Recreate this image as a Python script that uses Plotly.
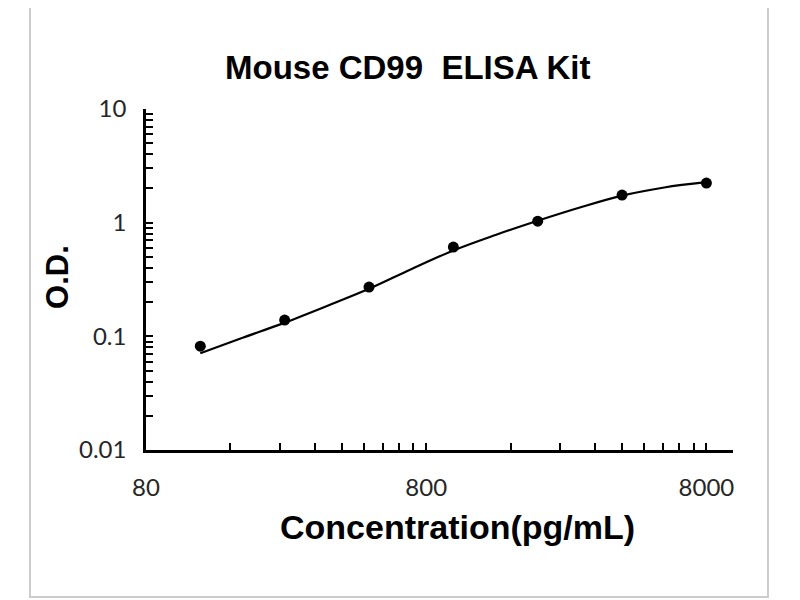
import plotly.graph_objects as go

# standard concentrations (pg/mL) and measured O.D.
conc = [125, 250, 500, 1000, 2000, 4000, 8000]
od = [0.082, 0.139, 0.271, 0.61, 1.03, 1.75, 2.23]

# fitted curve
fit_conc = [125, 177, 250, 354, 500, 707, 1000, 1414, 2000, 2828, 4000, 5657, 8000]
fit_od = [0.071, 0.097, 0.132, 0.185, 0.262, 0.39, 0.57, 0.78, 1.04, 1.36, 1.73, 2.04, 2.27]

x_tickvals = [80, 800, 8000]
x_ticktext = ['80', '800', '8000']
y_tickvals = [0.01, 0.1, 1, 10]
y_ticktext = ['0.01', '0.1', '1', '10']

x_minor = [80 * k * 10 ** d for d in range(3) for k in range(2, 10)]

black = '#000000'
label_color = '#262626'

fig = go.Figure()

fig.add_trace(go.Scatter(
  x=fit_conc,
  y=fit_od,
  mode='lines',
  line=dict(color=black, width=2.2, shape='spline', smoothing=1.0),
  showlegend=False,
))

fig.add_trace(go.Scatter(
  x=conc,
  y=od,
  mode='markers',
  marker=dict(color=black, size=11),
  showlegend=False,
))

# page body has an 8px margin, so the figure is 8px smaller than the window
fig.update_layout(
  width=792,
  height=592,
  paper_bgcolor='white',
  plot_bgcolor='white',
  margin=dict(l=138, r=67, t=101, b=150, pad=0),
  font=dict(family='Liberation Sans, Arial', color=black),
  annotations=[
    dict(text='<b>Mouse CD99 \u00a0ELISA Kit</b>', xref='paper', yref='paper',
         x=0.4455, y=1.123, xanchor='center', yanchor='middle', showarrow=False,
         font=dict(size=33, color=black)),
    dict(text='<b>Concentration(pg/mL)</b>', xref='paper', yref='paper',
         x=0.531, y=-0.226, xanchor='center', yanchor='middle', showarrow=False,
         font=dict(size=34, color=black)),
    dict(text='<b>O.D.</b>', xref='paper', yref='paper', textangle=-90,
         x=-0.152, y=0.507, xanchor='center', yanchor='middle', showarrow=False,
         font=dict(size=31, color=black)),
  ],
  shapes=[
    dict(type='rect', xref='paper', yref='paper', x0=-0.1976, x1=1.0596,
         y0=-0.431, y1=1.34, line=dict(color='#cccccc', width=2)),
  ],
)

fig.update_xaxes(
  type='log',
  range=[1.9031, 3.998],
  tickvals=x_tickvals,
  ticktext=x_ticktext,
  ticks='inside',
  ticklen=7,
  tickwidth=2,
  tickcolor=black,
  minor=dict(tickvals=x_minor, ticks='inside', ticklen=7, tickwidth=2,
             tickcolor=black, showgrid=False),
  showline=True,
  linecolor=black,
  linewidth=2.5,
  showgrid=False,
  zeroline=False,
  ticklabelstandoff=14,
  tickfont=dict(family='Lato, Open Sans', size=24, color=label_color),
)

fig.update_yaxes(
  type='log',
  range=[-2, 1],
  tickvals=y_tickvals,
  ticktext=y_ticktext,
  ticks='inside',
  ticklen=7,
  tickwidth=2,
  tickcolor=black,
  minor=dict(dtick='D1', ticks='inside', ticklen=7, tickwidth=2,
             tickcolor=black, showgrid=False),
  showline=True,
  linecolor=black,
  linewidth=2.5,
  showgrid=False,
  zeroline=False,
  ticklabelstandoff=12,
  tickfont=dict(family='Lato, Open Sans', size=24, color=label_color),
)

fig.write_html('out.html')
